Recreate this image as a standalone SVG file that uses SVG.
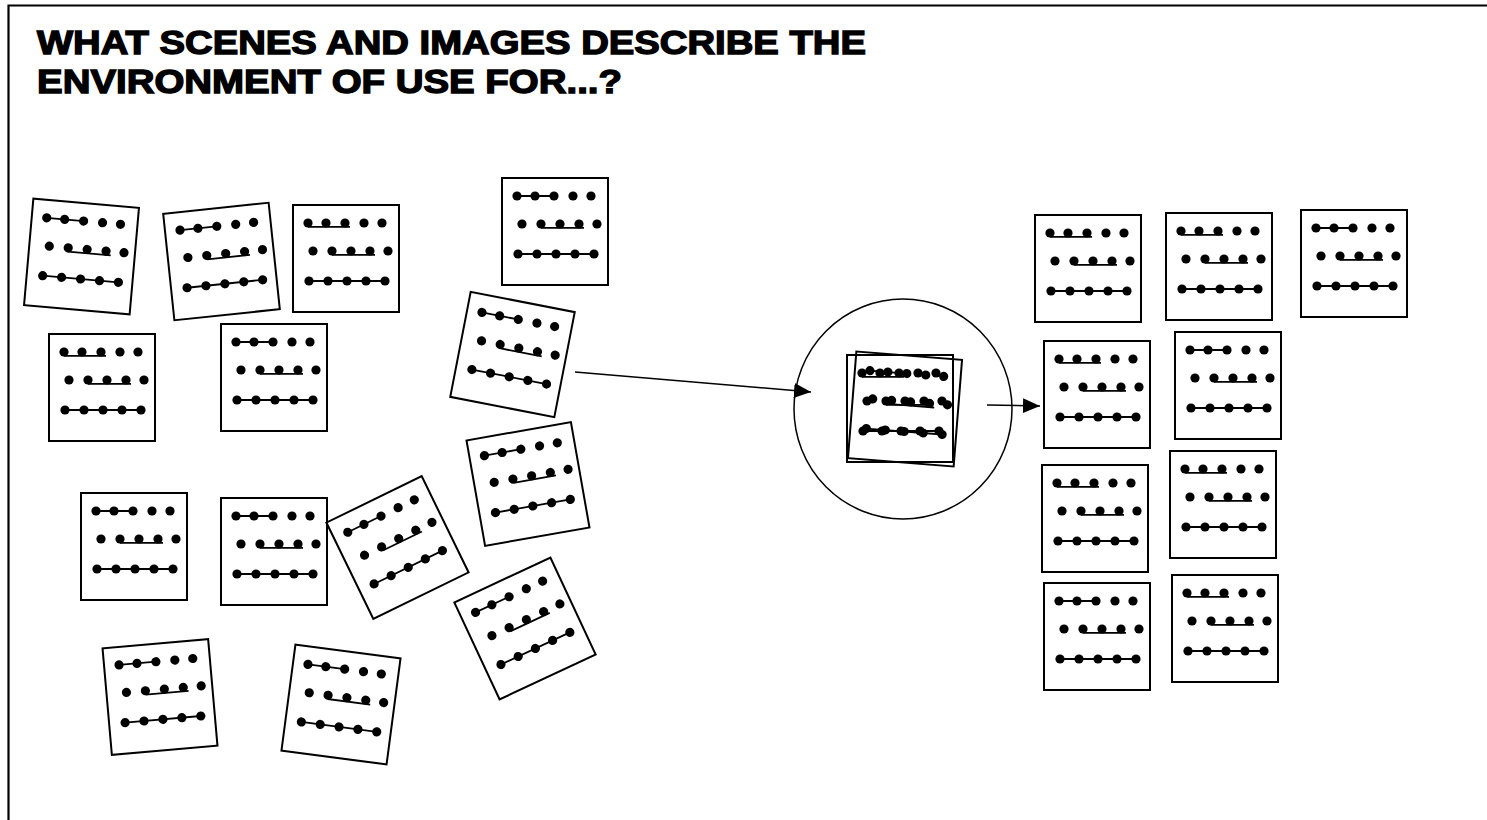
<svg xmlns="http://www.w3.org/2000/svg" xmlns:xlink="http://www.w3.org/1999/xlink" width="1487" height="820" viewBox="0 0 1487 820">
  <style>
    .title { font-family: "Liberation Sans", Arial, sans-serif; font-weight: bold; font-size: 34px; fill: #000; stroke: #000; stroke-width: 1.4px; }
    .frame { fill: none; stroke: #000; stroke-width: 2; }
    .dot { fill: #000; }
    .ln { stroke: #000; stroke-width: 1.8; fill: none; }
    .edge { stroke: #000; stroke-width: 1.5; fill: none; }
    .lens { fill: none; stroke: #000; stroke-width: 1.5; }
    .border { fill: none; stroke: #000; stroke-width: 2.2; }
  </style>
  <defs>
    <marker id="arrow" markerUnits="userSpaceOnUse" markerWidth="18" markerHeight="16" refX="17" refY="7.5" orient="auto">
      <path d="M0,0 L17,7.5 L0,15 z" fill="#000"/>
    </marker>
    <!-- shared lower rows of every card -->
    <g id="rows23">
      <path class="ln" d="M39 49.8 H82 M16 76 H92"/>
      <circle class="dot" cx="20" cy="46" r="4.6"/>
      <circle class="dot" cx="39" cy="46" r="4.6"/>
      <circle class="dot" cx="58" cy="46" r="4.6"/>
      <circle class="dot" cx="77" cy="46" r="4.6"/>
      <circle class="dot" cx="95" cy="46" r="4.6"/>
      <circle class="dot" cx="16" cy="76" r="4.6"/>
      <circle class="dot" cx="35" cy="76" r="4.6"/>
      <circle class="dot" cx="54" cy="76" r="4.6"/>
      <circle class="dot" cx="73" cy="76" r="4.6"/>
      <circle class="dot" cx="92" cy="76" r="4.6"/>
    </g>
    <g id="row1dots">
      <circle class="dot" cx="15" cy="18" r="4.6"/>
      <circle class="dot" cx="33" cy="18" r="4.6"/>
      <circle class="dot" cx="52" cy="18" r="4.6"/>
      <circle class="dot" cx="71" cy="18" r="4.6"/>
      <circle class="dot" cx="89" cy="18" r="4.6"/>
    </g>
    <!-- card A: first row underlined -->
    <g id="cardA">
      <rect class="frame" x="0" y="0" width="106" height="107"/>
      <path class="ln" d="M15 21.8 H57"/>
      <use xlink:href="#row1dots"/>
      <use xlink:href="#rows23"/>
    </g>
    <!-- card B: first row joined through the dots -->
    <g id="cardB">
      <rect class="frame" x="0" y="0" width="106" height="107"/>
      <path class="ln" d="M15 18 H52"/>
      <use xlink:href="#row1dots"/>
      <use xlink:href="#rows23"/>
    </g>
  </defs>

  <rect width="1487" height="820" fill="#fff"/>
  <path class="border" d="M8.5 820 V5.5 H1487"/>

  <g id="title">
    <text class="title" x="37" y="54" textLength="829" lengthAdjust="spacingAndGlyphs">WHAT SCENES AND IMAGES DESCRIBE THE</text>
    <text class="title" x="37" y="93" textLength="585" lengthAdjust="spacingAndGlyphs">ENVIRONMENT OF USE FOR...?</text>
  </g>

  <!-- scattered cards -->
  <g id="card-l01" transform="translate(81.5,256.5) rotate(5) translate(-53,-53.5)"><use xlink:href="#cardB"/></g>
  <g id="card-l02" transform="translate(221.5,261.5) rotate(-6) translate(-53,-53.5)"><use xlink:href="#cardB"/></g>
  <g id="card-l03" transform="translate(293,205)"><use xlink:href="#cardA"/></g>
  <g id="card-l04" transform="translate(502,178)"><use xlink:href="#cardB"/></g>
  <g id="card-l05" transform="translate(49,334)"><use xlink:href="#cardA"/></g>
  <g id="card-l06" transform="translate(221,324)"><use xlink:href="#cardB"/></g>
  <g id="card-l07" transform="translate(512.5,354.5) rotate(11) translate(-53,-53.5)"><use xlink:href="#cardB"/></g>
  <g id="card-l08" transform="translate(528,484) rotate(-10) translate(-53,-53.5)"><use xlink:href="#cardB"/></g>
  <g id="card-l09" transform="translate(81,493)"><use xlink:href="#cardB"/></g>
  <g id="card-l10" transform="translate(221,498)"><use xlink:href="#cardB"/></g>
  <g id="card-l11" transform="translate(397.5,547.5) rotate(-26) translate(-53,-53.5)"><use xlink:href="#cardB"/></g>
  <g id="card-l12" transform="translate(525,628.5) rotate(-25) translate(-53,-53.5)"><use xlink:href="#cardB"/></g>
  <g id="card-l13" transform="translate(160,697) rotate(-5) translate(-53,-53.5)"><use xlink:href="#cardB"/></g>
  <g id="card-l14" transform="translate(341,704.5) rotate(7.5) translate(-53,-53.5)"><use xlink:href="#cardB"/></g>

  <!-- selection lens with stacked cards -->
  <g id="lens">
    <ellipse class="lens" cx="903" cy="409" rx="109" ry="110"/>
    <g transform="translate(905,409) rotate(4.5) translate(-53,-53.5)"><use xlink:href="#cardB"/></g>
    <g transform="translate(847,355)"><use xlink:href="#cardA"/></g>
  </g>

  <!-- sorted cards -->
  <g id="card-r1" transform="translate(1035,215)"><use xlink:href="#cardA"/></g>
  <g id="card-r2" transform="translate(1166,213)"><use xlink:href="#cardA"/></g>
  <g id="card-r3" transform="translate(1301,210)"><use xlink:href="#cardB"/></g>
  <g id="card-r4" transform="translate(1044,341)"><use xlink:href="#cardA"/></g>
  <g id="card-r5" transform="translate(1175,332)"><use xlink:href="#cardB"/></g>
  <g id="card-r6" transform="translate(1042,465)"><use xlink:href="#cardA"/></g>
  <g id="card-r7" transform="translate(1170,451)"><use xlink:href="#cardA"/></g>
  <g id="card-r8" transform="translate(1044,583)"><use xlink:href="#cardB"/></g>
  <g id="card-r9" transform="translate(1172,575)"><use xlink:href="#cardA"/></g>

  <g id="connectors">
    <line class="edge" x1="575" y1="372" x2="811" y2="392" marker-end="url(#arrow)"/>
    <line class="edge" x1="987" y1="405" x2="1040" y2="406" marker-end="url(#arrow)"/>
  </g>
</svg>
